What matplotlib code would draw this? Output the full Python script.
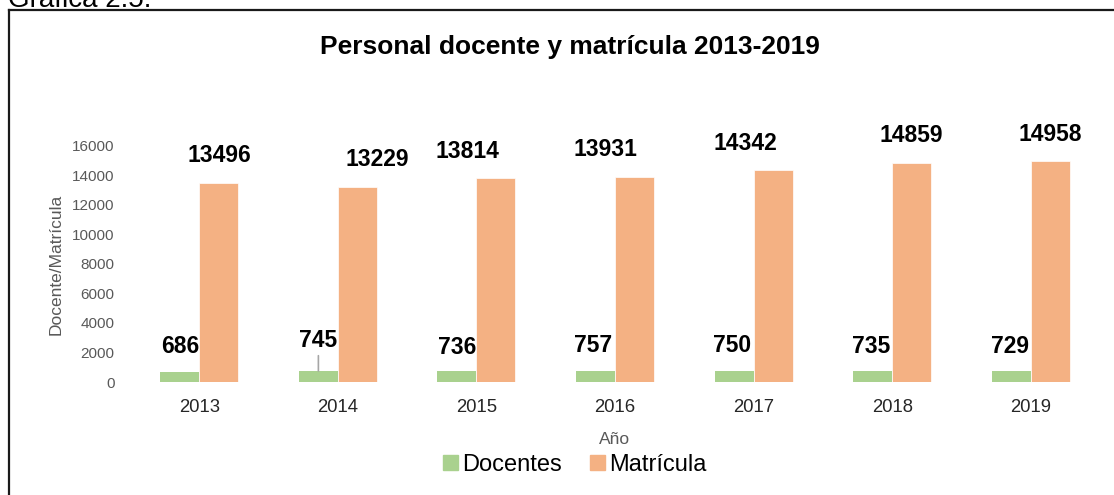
import matplotlib
matplotlib.use("Agg")
import matplotlib.pyplot as plt
from matplotlib.lines import Line2D
from matplotlib.patches import Patch
import numpy as np

plt.rcParams['font.family'] = ['Liberation Sans', 'DejaVu Sans']

# data
years = ['2013', '2014', '2015', '2016', '2017', '2018', '2019']
docentes = [686, 745, 736, 757, 750, 735, 729]
matricula = [13496, 13229, 13814, 13931, 14342, 14859, 14958]

# label nudges (pixels) as placed in the original
doc_dx = [0, 0, 0, -2, -2, -2, -1]
doc_dy = [25, 31, 24, 25, 25, 25, 25]
mat_dx = [1, 20, -28, -29, -28, 0, 0]

GREEN = '#A9D18E'
ORANGE = '#F4B183'

W, H = 1114, 495
fig = plt.figure(figsize=(W / 100, H / 100), dpi=100)
ax = fig.add_axes([130 / W, 1 - 382 / H, (1100 - 130) / W, (382 - 146) / H])

x = np.arange(len(years))
bw = 0.281
ax.bar(x - bw / 2, docentes, bw, color=GREEN)
ax.bar(x + bw / 2, matricula, bw, color=ORANGE, edgecolor='white', linewidth=0.5)

for i in range(len(years)):
    kw = {}
    if i == 1:
        kw['arrowprops'] = dict(arrowstyle='-', color='#A6A6A6', lw=1.2,
                                shrinkA=1, shrinkB=0)
    ax.annotate(str(docentes[i]), (x[i] - bw / 2, docentes[i]),
                xytext=(doc_dx[i], doc_dy[i]), textcoords='offset pixels',
                ha='center', va='center', fontsize=16.5, fontweight='bold',
                color='black', **kw)
    ax.annotate(str(matricula[i]), (x[i] + bw / 2, matricula[i]),
                xytext=(mat_dx[i], 27), textcoords='offset pixels',
                ha='center', va='center', fontsize=16.5, fontweight='bold',
                color='black')

ax.set_xlim(-0.5, len(years) - 0.5)
ax.set_ylim(0, 16000)
ax.set_yticks(np.arange(0, 16001, 2000))
ax.set_xticks(x)
ax.set_xticklabels(years)
ax.tick_params(axis='y', length=0, labelsize=11, labelcolor='#595959', pad=11)
ax.tick_params(axis='x', length=0, labelsize=13.3, labelcolor='#262626', pad=12)
for s in ax.spines.values():
    s.set_visible(False)

ax.set_ylabel('Docente/Matrícula', fontsize=12.5, color='#595959', labelpad=6)
ax.set_xlabel('Año', fontsize=12.5, color='#595959', labelpad=12)

fig.text(570 / W, 1 - 47 / H, 'Personal docente y matrícula 2013-2019',
         ha='center', va='center', fontsize=19, fontweight='bold')

handles = [Patch(color=GREEN), Patch(color=ORANGE)]
fig.legend(handles, ['Docentes', 'Matrícula'], loc='center',
           bbox_to_anchor=(575 / W, 1 - 465 / H), ncol=2, frameon=False,
           fontsize=17, handlelength=0.6, handleheight=0.6, handletextpad=0.2,
           columnspacing=1.2)

# caption cut off at the top and the frame of the chart
fig.text(8 / W, 1 - 7 / H, 'Gráfica 2.5.', ha='left', va='baseline', fontsize=20)
fig.add_artist(Line2D([9 / W, 9 / W], [0, 1 - 10 / H], color='#1a1a1a', lw=1.6))
fig.add_artist(Line2D([9 / W, 1], [1 - 10 / H, 1 - 10 / H], color='#1a1a1a', lw=1.6))

fig.savefig('out.png', dpi=100)
